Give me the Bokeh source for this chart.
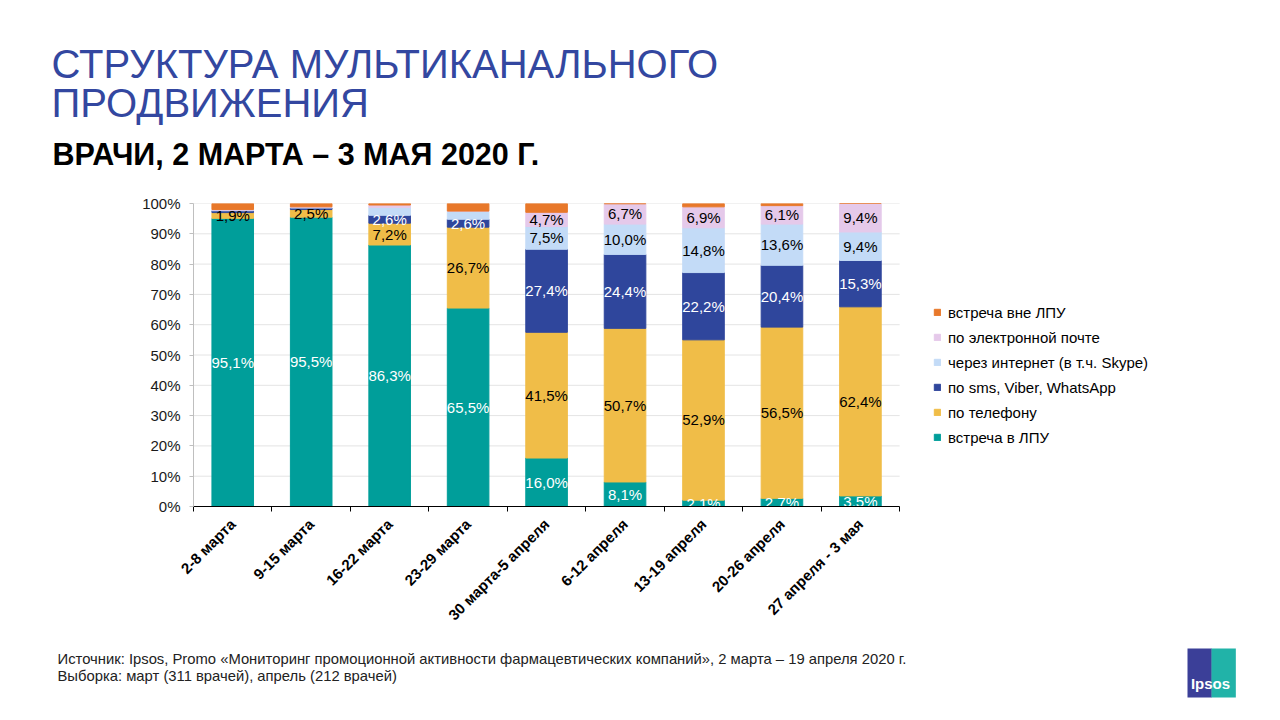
import math
import numpy as np
from bokeh.plotting import figure
from bokeh.models import (ColumnDataSource, FactorRange, Range1d, LinearAxis, CategoricalAxis,
                          FixedTicker, PrintfTickFormatter, Legend, LegendItem, Label)
from bokeh.core.properties import value
from bokeh.embed import file_html
from bokeh.resources import INLINE

# ---------------- data ----------------
categories = ["2-8 марта", "9-15 марта", "16-22 марта", "23-29 марта", "30 марта-5 апреля",
              "6-12 апреля", "13-19 апреля", "20-26 апреля", "27 апреля - 3 мая"]
vstrecha_v_lpu = [95.1, 95.5, 86.3, 65.5, 16.0, 8.1, 2.1, 2.7, 3.5]
po_telefonu = [1.9, 2.5, 7.2, 26.7, 41.5, 50.7, 52.9, 56.5, 62.4]
po_sms = [0.6, 0.5, 2.6, 2.6, 27.4, 24.4, 22.2, 20.4, 15.3]
cherez_internet = [0.2, 0.2, 2.6, 2.6, 7.5, 10.0, 14.8, 13.6, 9.4]
po_pochte = [0.2, 0.2, 0.8, 0.1, 4.7, 6.7, 6.9, 6.1, 9.4]
vstrecha_vne_lpu = [2.0, 1.1, 0.5, 2.5, 2.9, 0.1, 1.1, 0.7, 0.0]

series_names = ["встреча в ЛПУ", "по телефону", "по sms, Viber, WhatsApp",
                "через интернет (в т.ч. Skype)", "по электронной почте", "встреча вне ЛПУ"]
series_values = [vstrecha_v_lpu, po_telefonu, po_sms, cherez_internet, po_pochte, vstrecha_vne_lpu]
series_colors = ["#009E9A", "#F0BD48", "#2F469C", "#C3DBF7", "#E5C9EA", "#E8782A"]
label_colors = ["white", "black", "white", "black", "black", None]
label_first_bar = [0, 0, 2, 4, 4, None]   # data labels shown from this bar on
y_ticks = list(range(0, 101, 10))

title1 = "СТРУКТУРА МУЛЬТИКАНАЛЬНОГО"
title2 = "ПРОДВИЖЕНИЯ"
subtitle = "ВРАЧИ, 2 МАРТА – 3 МАЯ 2020 Г."
footer1 = "Источник: Ipsos, Promo «Мониторинг промоционной активности фармацевтических компаний», 2 марта – 19 апреля 2020  г."
footer2 = "Выборка: март (311 врачей), апрель (212 врачей)"
logo_text = "Ipsos"

FONT = "Liberation Sans"
W, H = 1264, 704
n = len(categories)
n_pad = 4                                   # empty slots on the right that hold the legend
pads = [" " * (i + 1) for i in range(n_pad)]
FRAME_L, FRAME_T, FRAME_B = 193, 203, 506
SLOT = (899 - FRAME_L) / n
FRAME_R = int(round(FRAME_L + SLOT * (n + n_pad)))

# ---------------- chart ----------------
keys = ["s%d" % i for i in range(len(series_values))]
data = {"cat": categories}
for k, v in zip(keys, series_values):
    data[k] = v
src = ColumnDataSource(data)

p = figure(width=W, height=H, x_range=FactorRange(*categories, *pads), y_range=Range1d(0, 100),
           output_backend="svg", toolbar_location=None, x_axis_location=None,
           min_border_left=FRAME_L, min_border_right=W - FRAME_R,
           min_border_top=FRAME_T, min_border_bottom=H - FRAME_B,
           outline_line_color=None)
p.xgrid.visible = False
p.ygrid.visible = False

# horizontal grid lines only under the bars
gsrc = ColumnDataSource(dict(x0=[(categories[0], -0.5)] * (len(y_ticks) - 1),
                             x1=[(categories[-1], 0.5)] * (len(y_ticks) - 1), y=y_ticks[1:]))
p.segment(x0="x0", y0="y", x1="x1", y1="y", source=gsrc, line_color="#E4E4E4", line_width=1,
          level="underlay")

renderers = p.vbar_stack(keys, x="cat", width=0.53, color=series_colors, source=src)

p.yaxis.ticker = FixedTicker(ticks=y_ticks)
p.yaxis.formatter = PrintfTickFormatter(format="%d%%")
p.yaxis.axis_line_color = "#BFBFBF"
p.yaxis.major_tick_line_color = "#BFBFBF"
p.yaxis.major_tick_out = 4
p.yaxis.major_tick_in = 0
p.yaxis.minor_tick_line_color = None
p.yaxis.major_label_text_font = FONT
p.yaxis.major_label_text_font_size = "15px"
p.yaxis.major_label_text_color = "#1A1A1A"
p.yaxis.major_label_standoff = 9

tick_axis = LinearAxis(ticker=FixedTicker(ticks=list(range(n + 1))), bounds=(0, n),
                       axis_line_color="black", axis_line_width=1.2,
                       major_tick_line_color="black", major_tick_out=5, major_tick_in=0,
                       minor_tick_line_color=None, major_label_text_font_size="1px",
                       major_label_text_color=None, major_label_standoff=0)
p.add_layout(tick_axis, "below")
cat_axis = CategoricalAxis(axis_line_color=None, major_tick_line_color=None, major_tick_out=0,
                           major_tick_in=0, major_label_orientation=math.pi / 4,
                           major_label_text_font=FONT, major_label_text_font_size="15px",
                           major_label_text_font_style="bold", major_label_text_color="black",
                           major_label_standoff=10)
p.add_layout(cat_axis, "below")

lx, ly, lt, lc = [], [], [], []
cum = np.zeros(n)
for vals, col, first in zip(series_values, label_colors, label_first_bar):
    vals = np.array(vals)
    mid = cum + vals / 2
    if col is not None:
        for i in range(first, n):
            lx.append(categories[i])
            ly.append(mid[i])
            lt.append(("%.1f%%" % vals[i]).replace(".", ","))
            lc.append(col)
    cum = cum + vals
lsrc = ColumnDataSource(dict(x=lx, y=ly, t=lt, c=lc))
p.text(x="x", y="y", text="t", text_color="c", source=lsrc, text_align="center",
       text_baseline="middle", text_font=value(FONT), text_font_size="15px")

items = [LegendItem(label=name, renderers=[r])
         for name, r in reversed(list(zip(series_names, renderers)))]
legend = Legend(items=items, location=(740, 59), glyph_width=8, glyph_height=8, label_standoff=7,
                label_height=20, spacing=5, padding=0, margin=0, border_line_color=None,
                background_fill_alpha=0, label_text_font=FONT, label_text_font_size="15px",
                label_text_color="black")
p.add_layout(legend)


# ---------------- header / footer / logo: labels in the side panels ----------------
def side_label(side, panel_bottom, text, xs, ys, size, color="black", style="normal",
               align="left", baseline="alphabetic", x_ref=FRAME_L, **kw):
    shift = 0.375 * size if baseline == "alphabetic" else 0.0
    p.add_layout(Label(x=xs - x_ref, y=panel_bottom - (ys - shift), x_units="screen", y_units="screen",
                       text=text, text_font=FONT, text_font_size="%gpx" % size, text_color=color,
                       text_font_style=style, text_align=align, text_baseline=baseline, **kw), side)


# above: stacked outward from the frame top (panel height ~ round(1.117 * font size))
side_label("above", FRAME_T, subtitle, 52, 165, 30.5, style="bold")
side_label("above", FRAME_T - 34, title2, 51, 117, 40, color="#3347A0")
side_label("above", FRAME_T - 34 - 45, title1, 51, 77, 40, color="#3347A0")

# below: after the two x-axis panels
AX_B = 632
side_label("below", AX_B + 17, footer1, 57, 665, 14.8, color="#222222")
side_label("below", AX_B + 34, footer2, 57, 683, 14.8, color="#222222")

# logo: blue half, teal half and white text, stacked in the left panel after the y axis
YAX_L = FRAME_L - 52
side_label("left", FRAME_B, " ", 1189, 648, 30, baseline="top", x_ref=YAX_L - 24,
           background_fill_color="#3B3F98", padding=8)
side_label("left", FRAME_B, " ", 1213, 648, 30, baseline="top", x_ref=YAX_L - 48,
           background_fill_color="#21B3A8", padding=8)
side_label("left", FRAME_B, logo_text, 1212, 689, 15, color="white", style="bold", align="center",
           x_ref=YAX_L - 48 - 39)

open("out.html", "w").write(file_html(p, INLINE))
